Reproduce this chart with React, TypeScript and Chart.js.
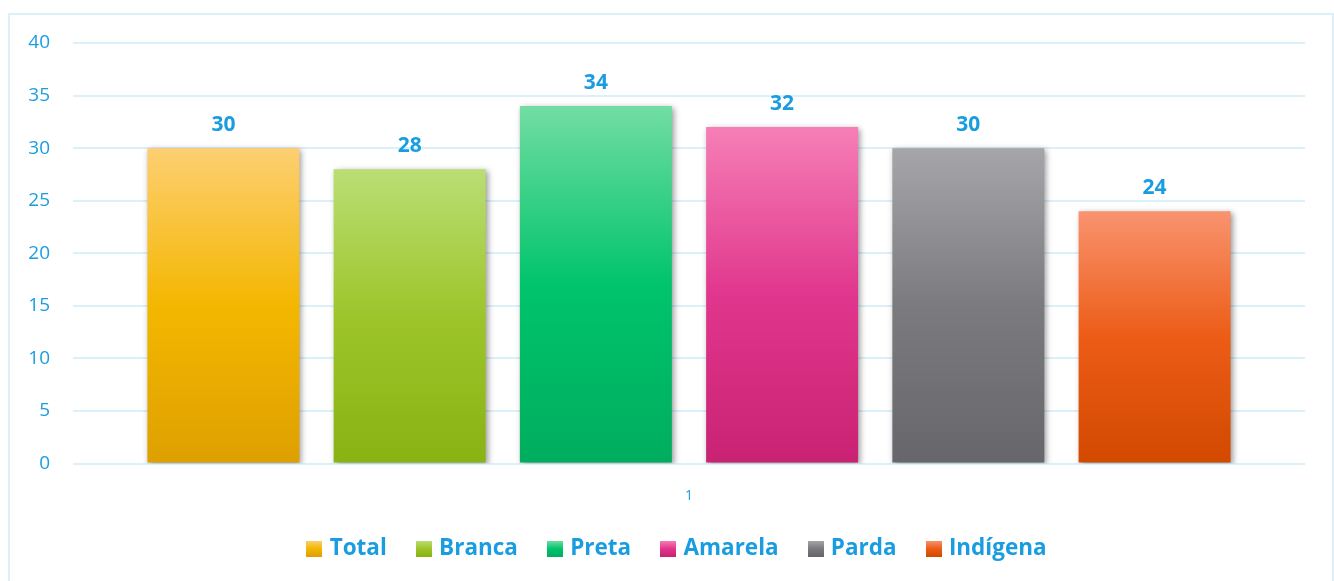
import React, { useEffect, useRef } from "react";
import { Chart, registerables } from "chart.js";
Chart.register(...registerables);

const categories = ["1"];
const seriesNames = ["Total", "Branca", "Preta", "Amarela", "Parda", "Indígena"];
const seriesValues = [30, 28, 34, 32, 30, 24];
const yMin = 0;
const yMax = 40;
const yStep = 5;

const gradientStops: string[][] = [
  ["#fdcf72", "#f4b700", "#dea000"],
  ["#bade74", "#9dc52b", "#88b313"],
  ["#72dda2", "#00c46b", "#00ad5e"],
  ["#f67fb6", "#e1368d", "#c92273"],
  ["#a6a5a9", "#7b7a7f", "#67666b"],
  ["#f9936f", "#ec5c16", "#d24900"],
];

const BLUE = "#1a9de0";
const FONT = "'Open Sans', 'Noto Sans', sans-serif";

function makeGradient(ctx: CanvasRenderingContext2D, top: number, bottom: number, stops: string[]) {
  const g = ctx.createLinearGradient(0, top, 0, bottom);
  g.addColorStop(0, stops[0]);
  g.addColorStop(0.5, stops[1]);
  g.addColorStop(1, stops[2]);
  return g;
}

function legendSwatch(stops: string[]) {
  const c = document.createElement("canvas");
  c.width = 16;
  c.height = 16;
  const x = c.getContext("2d")!;
  x.fillStyle = makeGradient(x, 0, 16, stops);
  x.fillRect(0, 0, 16, 16);
  return c;
}

export default function App() {
  const ref = useRef<HTMLCanvasElement | null>(null);

  useEffect(() => {
    document.documentElement.style.overflow = "hidden";
    document.body.style.overflow = "hidden";
    const canvas = ref.current!;
    const swatches = gradientStops.map(legendSwatch);

    const frame = {
      id: "frame",
      beforeDraw(chart: any) {
        const c = chart.ctx;
        c.save();
        c.strokeStyle = "#dcf0fa";
        c.lineWidth = 2;
        c.strokeRect(9, 14, 1324, 620);
        c.restore();
      },
    };

    const legendShift = {
      id: "legendShift",
      afterLayout(chart: any) {
        if (chart.legend) {
          chart.legend.left += 26;
          chart.legend.right += 26;
        }
      },
    };

    const shadow = {
      id: "barShadow",
      beforeDatasetsDraw(chart: any) {
        const c = chart.ctx;
        c.save();
        c.shadowColor = "rgba(0,0,0,0.4)";
        c.shadowBlur = 6;
        c.shadowOffsetX = 2;
        c.shadowOffsetY = 2;
      },
      afterDatasetsDraw(chart: any) {
        chart.ctx.restore();
      },
    };

    const valueLabels = {
      id: "valueLabels",
      afterDatasetsDraw(chart: any) {
        const c = chart.ctx;
        c.save();
        c.fillStyle = BLUE;
        c.font = `bold 21px ${FONT}`;
        c.textAlign = "center";
        c.textBaseline = "middle";
        chart.data.datasets.forEach((ds: any, i: number) => {
          const meta = chart.getDatasetMeta(i);
          meta.data.forEach((el: any, j: number) => {
            c.fillText(String(ds.data[j]), el.x, el.y - 23);
          });
        });
        c.restore();
      },
    };

    const chart = new Chart(canvas, {
      type: "bar",
      data: {
        labels: categories,
        datasets: seriesNames.map((name, i) => ({
          label: name,
          data: [seriesValues[i]],
          backgroundColor: (ctx: any) => {
            const ch = ctx.chart;
            if (!ch.chartArea) return gradientStops[i][1];
            const y = ch.scales.y;
            const top = y.getPixelForValue(seriesValues[i]);
            const bottom = y.getPixelForValue(0);
            return makeGradient(ch.ctx, top, bottom, gradientStops[i]);
          },
          borderWidth: 0,
          categoryPercentage: 0.907,
          barPercentage: 0.816,
        })),
      },
      options: {
        responsive: true,
        maintainAspectRatio: false,
        animation: false,
        layout: { padding: { left: 0, right: 29, top: 43, bottom: 11 } },
        scales: {
          x: {
            grid: { display: false, drawTicks: false },
            border: { display: false },
            ticks: { color: BLUE, font: { family: FONT, size: 14 }, padding: 24 },
            afterFit: (s: any) => {
              s.height = 41;
            },
          },
          y: {
            min: yMin,
            max: yMax,
            ticks: {
              stepSize: yStep,
              color: BLUE,
              font: { family: FONT, size: 19 },
              padding: 23,
            },
            grid: { color: "#dcf0fa", lineWidth: 2, drawTicks: false },
            border: { display: false },
            afterFit: (s: any) => {
              s.width = 73;
            },
          },
        },
        plugins: {
          tooltip: { enabled: false },
          legend: {
            position: "bottom",
            labels: {
              color: BLUE,
              font: { family: FONT, size: 22.5, weight: "bold" },
              padding: 33,
              boxWidth: 16,
              boxHeight: 16,
              usePointStyle: true,
              pointStyleWidth: 8,
              generateLabels: (ch: any) =>
                ch.data.datasets.map((ds: any, i: number) => ({
                  text: ds.label,
                  fillStyle: gradientStops[i][1],
                  strokeStyle: "transparent",
                  lineWidth: 0,
                  pointStyle: swatches[i],
                  hidden: false,
                  datasetIndex: i,
                  fontColor: BLUE,
                })),
            },
          },
        },
      },
      plugins: [frame, legendShift, shadow, valueLabels],
    } as any);

    return () => chart.destroy();
  }, []);

  return (
    <div style={{ position: "fixed", left: 0, top: 0, width: 1334, height: 581 }}>
      <canvas ref={ref} />
    </div>
  );
}
